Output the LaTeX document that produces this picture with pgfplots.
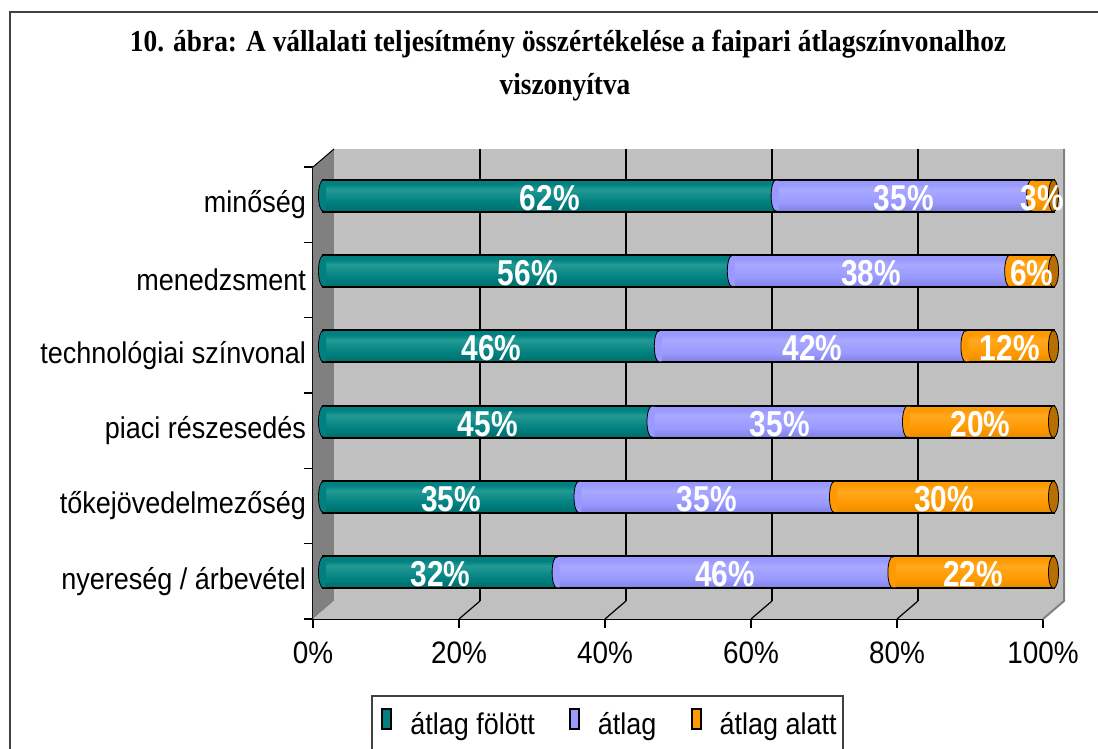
\documentclass[border=0pt]{standalone}
\usepackage{pgfplots}
\pgfplotsset{compat=1.18}
\usepackage{pgfplotstable}
\usepackage{fontspec}
\setmainfont{Liberation Sans}[FakeStretch=0.9]
\newfontfamily\titlefont[FakeStretch=0.9]{Liberation Serif}
\newfontfamily\valuefont[FakeStretch=0.83]{Liberation Sans}

\definecolor{tealbar}{HTML}{008080}
\definecolor{tealhi}{HTML}{239A94}
\definecolor{tealdk}{HTML}{006C68}
\definecolor{lavbar}{HTML}{9999FF}
\definecolor{lavhi}{HTML}{A9A9FF}
\definecolor{lavdk}{HTML}{8080E0}
\definecolor{orbar}{HTML}{FF9900}
\definecolor{orhi}{HTML}{FFA820}
\definecolor{ordk}{HTML}{E68A00}
\definecolor{orcap}{HTML}{B86E00}
\definecolor{wallgray}{HTML}{C0C0C0}
\definecolor{sidegray}{HTML}{808080}
\definecolor{framegray}{HTML}{404040}

% cylinder-like shadings: the middle 50bp span the height of a bar
\pgfdeclareverticalshading{cylteal}{100bp}{color(0bp)=(tealdk); color(25bp)=(tealdk); color(40bp)=(tealbar); color(60bp)=(tealhi); color(68bp)=(tealbar); color(100bp)=(tealbar)}
\pgfdeclareverticalshading{cyllav}{100bp}{color(0bp)=(lavdk); color(25bp)=(lavdk); color(40bp)=(lavbar); color(60bp)=(lavhi); color(68bp)=(lavbar); color(100bp)=(lavbar)}
\pgfdeclareverticalshading{cylor}{100bp}{color(0bp)=(ordk); color(25bp)=(ordk); color(40bp)=(orbar); color(60bp)=(orhi); color(68bp)=(orbar); color(100bp)=(orbar)}

% rounded left end of a cylinder segment
\pgfdeclareplotmark{capleft}{%
  \pgfpathmoveto{\pgfqpoint{1.3pt}{7.5pt}}%
  \pgfpathlineto{\pgfqpoint{0pt}{7.5pt}}%
  \pgfpatharc{90}{270}{2.5pt and 7.5pt}%
  \pgfpathlineto{\pgfqpoint{1.3pt}{-7.5pt}}%
  \pgfpathclose
  \pgfusepathqfill
  \pgfpathmoveto{\pgfqpoint{0pt}{8pt}}%
  \pgfpatharc{90}{270}{2.5pt and 8pt}%
  \pgfusepathqstroke
}
% visible end face of a cylinder
\pgfdeclareplotmark{capright}{%
  \pgfpathellipse{\pgfpointorigin}{\pgfqpoint{2.5pt}{0pt}}{\pgfqpoint{0pt}{8pt}}%
  \pgfusepathqfillstroke
}

\pgfplotsset{
  barplane/.style={xshift=5.25pt, yshift=4.5pt},
  cyl/.style={xbar, bar width=16pt, bar shift=0pt, barplane, draw=black, line width=1pt, forget plot},
  onerow/.style={y filter/.expression={abs(y-#1)<0.1 ? y : nan}},
  cap/.style={only marks, barplane, forget plot, mark options={draw=black, line width=1pt}},
  val/.style={draw=none, mark=none, barplane, forget plot,
    point meta=explicit symbolic,
    nodes near coords={\pgfplotspointmeta\%},
    nodes near coords style={anchor=center, text=white, yshift=-1pt,
      font=\valuefont\bfseries\fontsize{18pt}{20pt}\selectfont}},
}

\pgfplotstableread{
pos a b c
6 62 35 3
5 56 38 6
4 46 42 12
3 45 35 20
2 35 35 30
1 32 46 22
}\ratings

\begin{document}
\begin{tikzpicture}
\useasboundingbox (-156.5pt,-65pt) rectangle (392.5pt,309.5pt);
\draw[framegray, line width=1.2pt] (-151.5pt,303.5pt) rectangle (420pt,-100pt);
\node[font=\titlefont\bfseries\fontsize{15.2pt}{17pt}\selectfont, anchor=base] at (127.5pt,283.5pt)
  {10. ábra: A vállalati teljesítmény összértékelése a faipari átlagszínvonalhoz};
\node[font=\titlefont\bfseries\fontsize{15.2pt}{17pt}\selectfont, anchor=base] at (126pt,262pt)
  {viszonyítva};
\draw[framegray, line width=0.8pt] (29.5pt,-38.5pt) rectangle (265pt,-100pt);

\begin{axis}[
  at={(0pt,0pt)}, anchor=south west,
  scale only axis, width=365pt, height=226pt,
  xmin=0, xmax=100, ymin=0.5, ymax=6.5,
  clip=false,
  axis lines=left,
  axis line style={-, line width=1pt, black},
  xtick={0,20,40,60,80,100},
  xticklabels={0\%,20\%,40\%,60\%,80\%,100\%},
  ytick={0.5,1.5,2.5,3.5,4.5,5.5,6.5},
  yticklabels={},
  extra y ticks={1,2,3,4,5,6},
  extra y tick labels={nyereség / árbevétel, tőkejövedelmezőség, piaci részesedés, technológiai színvonal, menedzsment, minőség},
  extra y tick style={major tick length=0pt},
  tick align=outside,
  major tick length=4.5pt,
  tick style={black, line width=0.8pt},
  xticklabel style={font=\fontsize{15.5pt}{17pt}\selectfont, yshift=-3.5pt},
  yticklabel style={font=\fontsize{15pt}{17pt}\selectfont},
  legend columns=3,
  legend style={at={(0.0849,-0.2345)}, anchor=west, draw=none, fill=none,
    font=\fontsize{15pt}{17pt}\selectfont,
    /tikz/every even column/.append style={column sep=15pt},
    /tikz/every odd column/.append style={column sep=7pt}},
  legend image code/.code={\draw[#1, draw=black, line width=1pt] (0.5pt,-1.8pt) rectangle (5pt,8.2pt);},
]
% side wall, back wall and floor
\fill[sidegray] (axis cs:0,0.5) -- (axis cs:0,6.5) -- ([shift={(10.5pt,9pt)}]axis cs:0,6.5) -- ([shift={(10.5pt,9pt)}]axis cs:0,0.5) -- cycle;
\fill[wallgray] ([shift={(10.5pt,9pt)}]axis cs:0,0.5) rectangle ([shift={(10.5pt,9pt)}]axis cs:100,6.5);
\fill[wallgray] (axis cs:0,0.5) -- (axis cs:100,0.5) -- ([shift={(10.5pt,9pt)}]axis cs:100,0.5) -- ([shift={(10.5pt,9pt)}]axis cs:0,0.5) -- cycle;
\pgfplotsinvokeforeach{20,40,60,80}{%
  \draw[black, line width=0.6pt] ([shift={(10.5pt,9pt)}]axis cs:#1,0.5) -- ([shift={(10.5pt,9pt)}]axis cs:#1,6.5);
  \draw[black, line width=0.6pt] (axis cs:#1,0.5) -- ([shift={(10.5pt,9pt)}]axis cs:#1,0.5);
}
\draw[sidegray, line width=1pt] (axis cs:100,0.5) -- ([shift={(10.5pt,9pt)}]axis cs:100,0.5) -- ([shift={(10.5pt,9pt)}]axis cs:100,6.5);
\draw[black, line width=0.5pt] (axis cs:0,6.5) -- ([shift={(10.5pt,9pt)}]axis cs:0,6.5);

% cylinders, one row at a time so each bar gets its own shading,
% drawn from the longest cumulative length down
\pgfplotsinvokeforeach{1,...,6}{%
  \addplot[cyl, onerow=#1, fill=orbar, shade, shading=cylor] table[x expr=\thisrow{a}+\thisrow{b}+\thisrow{c}, y=pos] {\ratings};
  \addplot[cyl, onerow=#1, fill=lavbar, shade, shading=cyllav] table[x expr=\thisrow{a}+\thisrow{b}, y=pos] {\ratings};
  \addplot[cyl, onerow=#1, fill=tealbar, shade, shading=cylteal] table[x=a, y=pos] {\ratings};
}

\addplot[cap, mark=capleft, mark options={fill=orbar}] table[x expr=\thisrow{a}+\thisrow{b}, y=pos] {\ratings};
\addplot[cap, mark=capleft, mark options={fill=lavbar}] table[x=a, y=pos] {\ratings};
\addplot[cap, mark=capleft, mark options={fill=tealbar}] table[x expr=0, y=pos] {\ratings};
\addplot[cap, mark=capright, mark options={fill=orcap}] table[x expr=\thisrow{a}+\thisrow{b}+\thisrow{c}, y=pos] {\ratings};

% value labels in the middle of each segment
\addplot[val] table[x expr=\thisrow{a}/2, y=pos, meta=a] {\ratings};
\addplot[val] table[x expr=\thisrow{a}+\thisrow{b}/2, y=pos, meta=b] {\ratings};
\addplot[val] table[x expr=\thisrow{a}+\thisrow{b}+\thisrow{c}/2, y=pos, meta=c] {\ratings};

\addlegendimage{fill=tealbar}\addlegendentry{átlag fölött}
\addlegendimage{fill=lavbar}\addlegendentry{átlag}
\addlegendimage{fill=orbar}\addlegendentry{átlag alatt}
\end{axis}
\end{tikzpicture}
\end{document}
